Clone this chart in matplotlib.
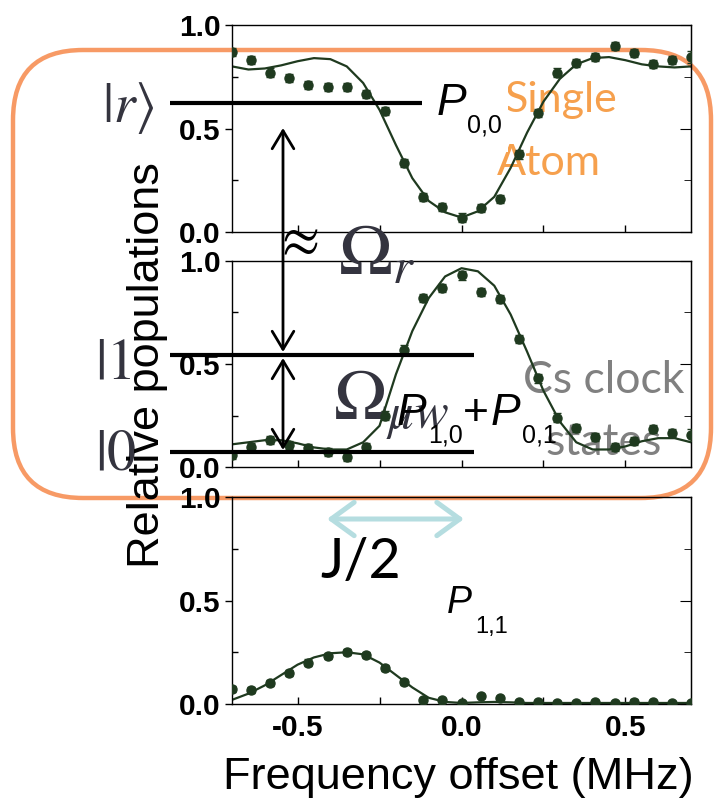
import matplotlib
matplotlib.use("Agg")
import matplotlib.pyplot as plt
from matplotlib.patches import FancyBboxPatch, FancyArrowPatch, Rectangle

plt.rcParams['mathtext.fontset'] = 'stix'

# frequency offsets of the measured points (MHz)
freq = [-0.700, -0.642, -0.583, -0.525, -0.467, -0.408, -0.350, -0.292, -0.233,
        -0.175, -0.117, -0.058, 0.000, 0.058, 0.117, 0.175, 0.233, 0.292,
        0.350, 0.408, 0.467, 0.525, 0.583, 0.642, 0.700]

p00 = [0.87, 0.83, 0.77, 0.745, 0.71, 0.70, 0.70, 0.665, 0.585, 0.335, 0.17, 0.12,
       0.07, 0.115, 0.16, 0.375, 0.575, 0.77, 0.815, 0.845, 0.90, 0.865, 0.81, 0.83, 0.845]
p10_01 = [0.058, 0.097, 0.131, 0.107, 0.092, 0.073, 0.049, 0.097, 0.25, 0.57, 0.82, 0.87,
          0.93, 0.85, 0.815, 0.62, 0.43, 0.24, 0.19, 0.146, 0.097, 0.126, 0.185, 0.165, 0.155]
p11 = [0.072, 0.068, 0.10, 0.15, 0.20, 0.23, 0.25, 0.237, 0.174, 0.107, 0.02, 0.02,
       0.006, 0.037, 0.028, 0.01, 0.01, 0.003, 0.005, 0.01, 0.005, 0.012, 0.01, 0.006, 0.003]

err00 = [0.02, 0.02, 0.02, 0.02, 0.02, 0.02, 0.02, 0.02, 0.02, 0.02, 0.02, 0.02,
         0.02, 0.02, 0.02, 0.02, 0.02, 0.02, 0.02, 0.02, 0.02, 0.02, 0.02, 0.02, 0.03]
err_mid = [0.02, 0.02, 0.02, 0.02, 0.02, 0.02, 0.02, 0.02, 0.02, 0.02, 0.02, 0.02,
           0.02, 0.02, 0.02, 0.02, 0.02, 0.02, 0.02, 0.02, 0.02, 0.02, 0.02, 0.02, 0.03]
err11 = [0.015, 0.015, 0.015, 0.015, 0.015, 0.015, 0.015, 0.015, 0.015, 0.015, 0.01, 0.01,
         0.01, 0.01, 0.01, 0.01, 0.01, 0.01, 0.01, 0.01, 0.01, 0.01, 0.01, 0.01, 0.01]

# fitted curves, read every 0.05 MHz
fit_x = [-0.70, -0.65, -0.60, -0.55, -0.50, -0.45, -0.40, -0.35, -0.30, -0.25,
         -0.20, -0.15, -0.10, -0.05, 0.00, 0.05, 0.10, 0.15, 0.20, 0.25,
         0.30, 0.35, 0.40, 0.45, 0.50, 0.55, 0.60, 0.65, 0.70]
fit00 = [0.80, 0.785, 0.79, 0.805, 0.825, 0.84, 0.835, 0.80, 0.72, 0.59,
         0.42, 0.26, 0.15, 0.095, 0.07, 0.10, 0.17, 0.31, 0.48, 0.63,
         0.74, 0.81, 0.84, 0.845, 0.83, 0.81, 0.80, 0.795, 0.80]
fit_mid = [0.11, 0.12, 0.13, 0.13, 0.115, 0.095, 0.085, 0.085, 0.12, 0.20,
           0.45, 0.66, 0.82, 0.925, 0.965, 0.95, 0.88, 0.74, 0.56, 0.37,
           0.22, 0.12, 0.085, 0.085, 0.10, 0.125, 0.14, 0.14, 0.12]
fit11 = [0.02, 0.05, 0.09, 0.14, 0.19, 0.225, 0.245, 0.25, 0.24, 0.20,
         0.14, 0.08, 0.03, 0.01, 0.005, 0.008, 0.01, 0.008, 0.005, 0.005,
         0.005, 0.005, 0.005, 0.005, 0.005, 0.005, 0.005, 0.005, 0.005]

green = '#1f3a1f'
orange_box = '#f79a65'
orange_txt = '#f6a04d'
gray_txt = '#808080'
dark_txt = '#34343f'

W, H = 714, 801
fig = plt.figure(figsize=(W / 100, H / 100), dpi=100)


def fpos(left, top, right, bottom):
    return [left / W, 1 - bottom / H, (right - left) / W, (bottom - top) / H]


# overlay axes in pixel units (behind the panels)
under = fig.add_axes([0, 0, 1, 1], zorder=0)
under.set_xlim(0, W)
under.set_ylim(H, 0)
under.axis('off')

under.add_patch(FancyBboxPatch((13, 50), 698, 448, boxstyle='round,pad=0,rounding_size=70',
                               fill=False, ec=orange_box, lw=3.2))
under.text(505, 112, 'Single', color=orange_txt, fontsize=31, family='Lato', va='baseline')
under.text(497, 175, 'Atom', color=orange_txt, fontsize=31, family='Lato', va='baseline')
under.add_patch(Rectangle((420, 62), 88, 90, fc='white', ec='none', zorder=3))
under.text(523, 393, 'Cs clock', color=gray_txt, fontsize=32, family='Lato', va='baseline')
under.text(545, 455, 'states', color=gray_txt, fontsize=32, family='Lato', va='baseline')
under.text(95, 362, r'$|1$', color=dark_txt, fontsize=42, va='center', ha='left')
under.text(95, 453, r'$|0$', color=dark_txt, fontsize=42, va='center', ha='left')
under.text(333, 420, r'$\Omega_{\mu w}$', color=dark_txt, fontsize=52, va='baseline', ha='left')

# the three panels
panels = [(25, 232, p00, err00, fit00), (261, 467, p10_01, err_mid, fit_mid),
          (497, 704, p11, err11, fit11)]
axes = []
for top, bottom, vals, errs, fit in panels:
    ax = fig.add_axes(fpos(232, top, 691, bottom), zorder=1)
    ax.patch.set_alpha(0)
    ax.errorbar(freq, vals, yerr=errs, fmt='o', color=green, ms=6.5, capsize=3.2,
                elinewidth=1, capthick=1, zorder=3)
    ax.plot(fit_x, fit, color=green, lw=1.6, zorder=2)
    ax.set_xlim(-0.7, 0.7)
    ax.set_ylim(0, 1)
    ax.set_xticks([-0.5, 0.0, 0.5])
    ax.set_xticks([-0.25, 0.25], minor=True)
    ax.set_yticks([0.0, 0.5, 1.0])
    ax.set_yticks([0.25, 0.75], minor=True)
    ax.set_yticklabels(['0.0', '0.5', '1.0'], fontsize=21.5, fontweight='bold',
                       family='Liberation Sans')
    ax.tick_params(axis='y', which='major', direction='out', length=5, width=1, pad=3)
    ax.tick_params(axis='y', which='minor', direction='in', length=4, width=1)
    ax.tick_params(axis='x', which='both', direction='in', length=5, width=1, pad=7)
    sec = ax.secondary_yaxis('right')
    sec.set_yticks([0.0, 0.5, 1.0])
    sec.set_yticks([0.25, 0.75], minor=True)
    sec.tick_params(which='major', direction='in', length=8, labelright=False)
    sec.tick_params(which='minor', direction='in', length=5)
    for s in ax.spines.values():
        s.set_linewidth(1)
    axes.append(ax)

for ax in axes[:2]:
    ax.tick_params(axis='x', labelbottom=False)
axes[2].set_xticklabels(['-0.5', '0.0', '0.5'], fontsize=21.5, fontweight='bold',
                        family='Liberation Sans')

# overlay axes in front of the panels
over = fig.add_axes([0, 0, 1, 1], zorder=2)
over.set_xlim(0, W)
over.set_ylim(H, 0)
over.axis('off')

for y, x1 in [(103, 422), (355, 474), (452, 474)]:
    over.plot([170, x1], [y, y], color='black', lw=3, solid_capstyle='butt')

for ya, yb in [(128, 352), (358, 450)]:
    over.add_patch(FancyArrowPatch((283, ya), (283, yb),
                                   arrowstyle='<->,head_length=0.5,head_width=0.3',
                                   mutation_scale=26, lw=2, color='black',
                                   shrinkA=0, shrinkB=0))

over.text(296, 240, r'$\approx$', fontsize=40, color='black', ha='center', va='center')
over.text(128, 108, r'$|r\rangle$', color=dark_txt, fontsize=40, ha='center', va='center')
over.text(338, 273, r'$\Omega_r$', color=dark_txt, fontsize=52, ha='left', va='baseline')

sans = 'Liberation Sans'
over.text(437, 115, 'P', fontsize=32, style='italic', family=sans, va='baseline')
over.text(467, 133, '0,0', fontsize=18, family=sans, va='baseline')
over.text(397, 425, 'P', fontsize=32, style='italic', family=sans, va='baseline')
over.text(428, 443, '1,0', fontsize=18, family=sans, va='baseline')
over.text(463, 425, '+', fontsize=32, family=sans, va='baseline')
over.text(491, 425, 'P', fontsize=32, style='italic', family=sans, va='baseline')
over.text(522, 443, '0,1', fontsize=18, family=sans, va='baseline')
over.text(447, 613, 'P', fontsize=27, style='italic', family=sans, va='baseline')
over.text(475, 633, '1,1', fontsize=17, family=sans, va='baseline')

over.add_patch(FancyArrowPatch((327, 519), (464, 519),
                               arrowstyle='<->,head_length=0.55,head_width=0.4',
                               mutation_scale=30, lw=3.6, color='#b5dde0',
                               shrinkA=0, shrinkB=0, capstyle='round', joinstyle='round'))
over.text(320, 578, 'J/2', fontsize=40, family='Lato', va='baseline', ha='left')

fig.text(147 / W, 1 - 365 / H, 'Relative populations', fontsize=32.5, family=sans,
         rotation=90, ha='center', va='center')
fig.text(458 / W, 1 - 777 / H, 'Frequency offset (MHz)', fontsize=32.5, family=sans,
         ha='center', va='center')

fig.savefig('out.png', dpi=100)
